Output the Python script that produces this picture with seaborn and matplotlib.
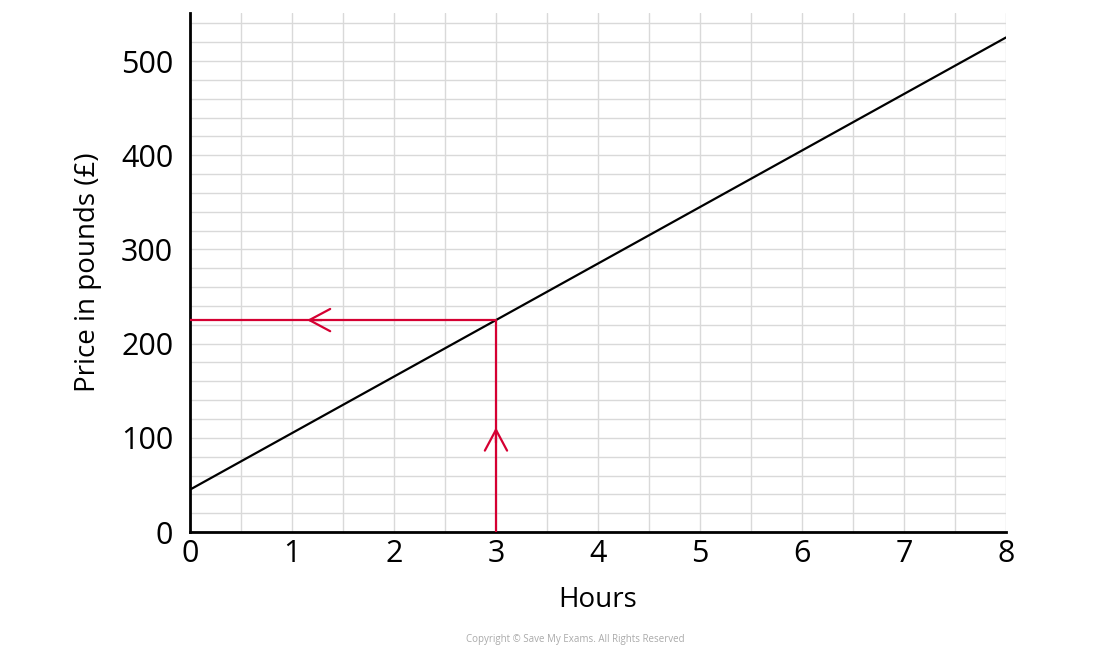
import matplotlib.pyplot as plt
import numpy as np
import pandas as pd
import seaborn as sns
from matplotlib.ticker import MultipleLocator

plt.switch_backend("Agg")
sns.set_theme(style="white")
plt.rcParams["font.family"] = ["Open Sans", "DejaVu Sans"]

# straight-line graph: price against hours
hours = [0, 8]
price = [45, 525]

# reading off the graph at 3 hours
read_hours = [3, 3, 0]
read_price = [0, 225, 225]

# arrow heads on the reading lines (tail -> tip)
up_arrow = [(3, 92), (3, 114)]
left_arrow = [(1.32, 225), (1.12, 225)]

x_ticks = list(range(0, 9))
y_ticks = [0, 100, 200, 300, 400, 500]

RED = "#d50032"

fig = plt.figure(figsize=(11, 6.5), dpi=100)
ax = fig.add_axes([0.1727, 0.1815, 0.7418, 0.7985])

line_df = pd.DataFrame({"Hours": hours, "Price": price})
sns.lineplot(data=line_df, x="Hours", y="Price", ax=ax, color="black", linewidth=1.6)

read_df = pd.DataFrame({"h": read_hours, "p": read_price})
ax.plot(read_df["h"], read_df["p"], color=RED, linewidth=1.6, zorder=3)

for tail, tip in (up_arrow, left_arrow):
    ax.annotate(
        "", xy=tip, xytext=tail,
        arrowprops=dict(arrowstyle="->,head_length=1.5,head_width=0.8",
                        color=RED, lw=1.6, mutation_scale=10),
        zorder=4,
    )

ax.set_xlim(0, 8)
ax.set_ylim(0, 551)
ax.set_xticks(x_ticks)
ax.set_yticks(y_ticks)
ax.xaxis.set_minor_locator(MultipleLocator(0.5))
ax.yaxis.set_minor_locator(MultipleLocator(20))
ax.grid(which="both", color="#d9d9d9", linewidth=1)
ax.set_axisbelow(True)

for side in ("top", "right"):
    ax.spines[side].set_visible(False)
for side in ("left", "bottom"):
    ax.spines[side].set_color("black")
    ax.spines[side].set_linewidth(2)

ax.tick_params(axis="both", which="both", length=0, labelsize=22, colors="black")
ax.tick_params(axis="x", pad=5)
ax.tick_params(axis="y", pad=12)
ax.set_xlabel("Hours", fontsize=20, labelpad=12, color="black")
ax.set_ylabel("Price in pounds (£)", fontsize=20, labelpad=14, color="black")

fig.text(0.523, 0.008, "Copyright © Save My Exams. All Rights Reserved",
         ha="center", va="bottom", fontsize=7, color="#aaaaaa")

fig.savefig("out.png", dpi=100)
plt.close(fig)
